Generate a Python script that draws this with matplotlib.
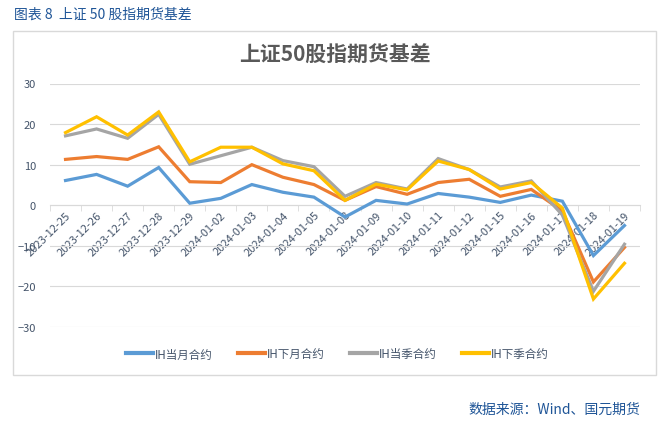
import matplotlib.pyplot as plt
from matplotlib.patches import Rectangle
from matplotlib.lines import Line2D
import numpy as np

plt.rcParams["font.family"] = ["Noto Sans CJK SC", "DejaVu Sans"]

# 数据
dates = ["2023-12-25", "2023-12-26", "2023-12-27", "2023-12-28", "2023-12-29",
         "2024-01-02", "2024-01-03", "2024-01-04", "2024-01-05", "2024-01-08",
         "2024-01-09", "2024-01-10", "2024-01-11", "2024-01-12", "2024-01-15",
         "2024-01-16", "2024-01-17", "2024-01-18", "2024-01-19"]
ih_cur_month = [6.1, 7.6, 4.7, 9.3, 0.5, 1.7, 5.1, 3.2, 2.0, -2.9,
                1.2, 0.3, 2.9, 2.0, 0.7, 2.5, 1.0, -12.4, -5.0]
ih_next_month = [11.3, 12.0, 11.3, 14.4, 5.8, 5.6, 10.0, 6.9, 5.1, 1.2,
                 4.6, 2.7, 5.6, 6.4, 2.2, 3.9, -1.4, -18.9, -10.4]
ih_cur_quarter = [17.1, 18.8, 16.5, 22.4, 10.1, 12.2, 14.3, 11.0, 9.5, 2.2,
                  5.6, 4.0, 11.5, 8.8, 4.5, 6.0, -2.4, -21.2, -9.6]
ih_next_quarter = [17.9, 21.8, 17.3, 23.0, 10.7, 14.3, 14.3, 10.2, 8.5, 1.2,
                   5.2, 3.8, 10.9, 8.8, 4.0, 5.6, -0.7, -23.1, -14.3]
series_names = ["IH当月合约", "IH下月合约", "IH当季合约", "IH下季合约"]
series_colors = ["#5B9BD5", "#ED7D31", "#A5A5A5", "#FFC000"]
yticks = [-30, -20, -10, 0, 10, 20, 30]

W, H = 663, 431
fig = plt.figure(figsize=(W / 100, H / 100), dpi=100)

# 外框
fig.patches.append(Rectangle((13 / W, 1 - 376 / H), 643 / W, 344 / H,
                             transform=fig.transFigure, fill=False,
                             edgecolor="#D9D9D9", linewidth=1.0))

ax = fig.add_axes([50 / W, 1 - 328 / H, 590 / W, 243.5 / H])
x = np.arange(len(dates))
all_series = [ih_cur_month, ih_next_month, ih_cur_quarter, ih_next_quarter]
for vals, name, c in zip(all_series, series_names, series_colors):
    ax.plot(x, vals, color=c, linewidth=2.3, label=name, solid_joinstyle="miter")

ax.set_xlim(-0.5, len(dates) - 0.5)
ax.set_ylim(-30, 30)
ax.set_yticks(yticks)
ax.grid(axis="y", color="#D9D9D9", linewidth=0.8)
ax.set_axisbelow(True)
for s in ["top", "right", "left"]:
    ax.spines[s].set_visible(False)
ax.spines["bottom"].set_position(("data", 0))
ax.spines["bottom"].set_color("#D9D9D9")
ax.spines["bottom"].set_zorder(0.5)

ax.set_xticks(x)
ax.set_xticklabels(dates, rotation=45, ha="right", va="top",
                   rotation_mode="anchor", fontsize=8, color="#44546A")
ax.set_xticks(np.arange(-0.5, len(dates)), minor=True)
ax.tick_params(axis="x", which="major", length=0, pad=3)
ax.tick_params(axis="x", which="minor", length=4, color="#D9D9D9", direction="out")
ax.tick_params(axis="y", length=0, labelsize=8, labelcolor="#44546A", pad=10)

# 图例
handles = [Line2D([0], [0], color=c, linewidth=3) for c in series_colors]
fig.legend(handles, series_names, loc="center", bbox_to_anchor=(337 / W, 1 - 355 / H),
           ncol=4, frameon=False, fontsize=8.3, handlelength=2.4, columnspacing=2.2,
           handletextpad=0.1, labelcolor="#44546A")

# 标题与注释
fig.text(335 / W, 1 - 55 / H, "上证50股指期货基差", ha="center", va="center",
         fontsize=15, fontweight="bold", color="#595959")
fig.text(14 / W, 1 - 15 / H, "图表 8  上证 50 股指期货基差", ha="left", va="center",
         fontsize=10, color="#1F5597")
fig.text(640 / W, 1 - 410 / H, "数据来源：Wind、国元期货", ha="right", va="center",
         fontsize=10, color="#1F5597")

fig.savefig("out.png", dpi=100)
